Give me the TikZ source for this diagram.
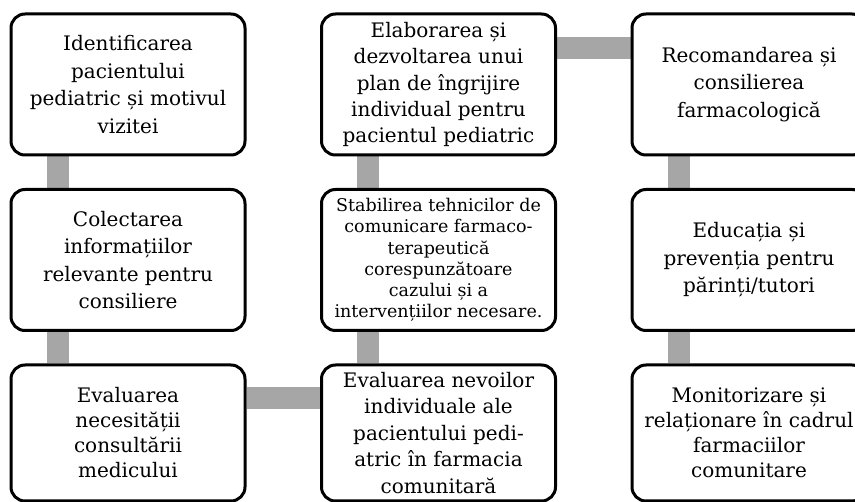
\documentclass[tikz,border=0pt]{standalone}
\usepackage{fontspec}
\setmainfont{DejaVu Serif}
\usetikzlibrary{backgrounds}
\definecolor{linkgray}{HTML}{A6A6A6}

\begin{document}
\begin{tikzpicture}[
  x=1pt, y=-1pt,
  pbox/.style={draw=black, line width=3pt, rounded corners=14pt, fill=white, align=center, minimum width=234pt, minimum height=141pt, inner sep=0pt, font=\fontsize{20}{27.5}\selectfont},
  pshort/.style={pbox, minimum height=136pt, font=\fontsize{20}{25}\selectfont},
  link/.style={draw=linkgray, line width=22pt}
]
\clip (0,0) rectangle (855,502);

\node[pbox] (p1) at (128,84.5) {Identificarea\\pacientului\\pediatric și motivul\\vizitei};
\node[pbox] (p2) at (128,260) {Colectarea\\informațiilor\\relevante pentru\\consiliere};
\node[pshort] (p3) at (128,433) {Evaluarea\\necesității\\consultării\\medicului};
\node[pshort, font=\fontsize{20}{26.5}\selectfont] (p4) at (438.5,433) {Evaluarea nevoilor\\individuale ale\\pacientului pedi-\\atric în farmacia\\comunitară};
\node[pbox, font=\fontsize{17.5}{21.3}\selectfont] (p5) at (438.5,260) {Stabilirea tehnicilor de\\comunicare farmaco-\\terapeutică\\corespunzătoare\\cazului și a\\intervențiilor necesare.};
\node[pbox, font=\fontsize{20}{26.3}\selectfont] (p6) at (438.5,84.5) {Elaborarea și\\dezvoltarea unui\\plan de îngrijire\\individual pentru\\pacientul pediatric};
\node[pbox] (p7) at (749,84.5) {Recomandarea și\\consilierea\\farmacologică};
\node[pbox] (p8) at (749,260) {Educația și\\prevenția pentru\\părinți/tutori};
\node[pshort] (p9) at (749,433) {Monitorizare și\\relaționare în cadrul\\farmaciilor\\comunitare};

\begin{scope}[on background layer]
\draw[link] ([xshift=48pt]p1.south west) -- ([xshift=48pt]p2.north west);
\draw[link] ([xshift=48pt]p2.south west) -- ([xshift=48pt]p3.north west);
\draw[link] ([yshift=-35pt]p3.north east) -- ([yshift=-35pt]p4.north west);
\draw[link] ([xshift=48pt]p4.north west) -- ([xshift=48pt]p5.south west);
\draw[link] ([xshift=48pt]p5.north west) -- ([xshift=48pt]p6.south west);
\draw[link] ([yshift=-36pt]p6.north east) -- ([yshift=-36pt]p7.north west);
\draw[link] ([xshift=48pt]p7.south west) -- ([xshift=48pt]p8.north west);
\draw[link] ([xshift=48pt]p8.south west) -- ([xshift=48pt]p9.north west);
\end{scope}
\end{tikzpicture}
\end{document}
